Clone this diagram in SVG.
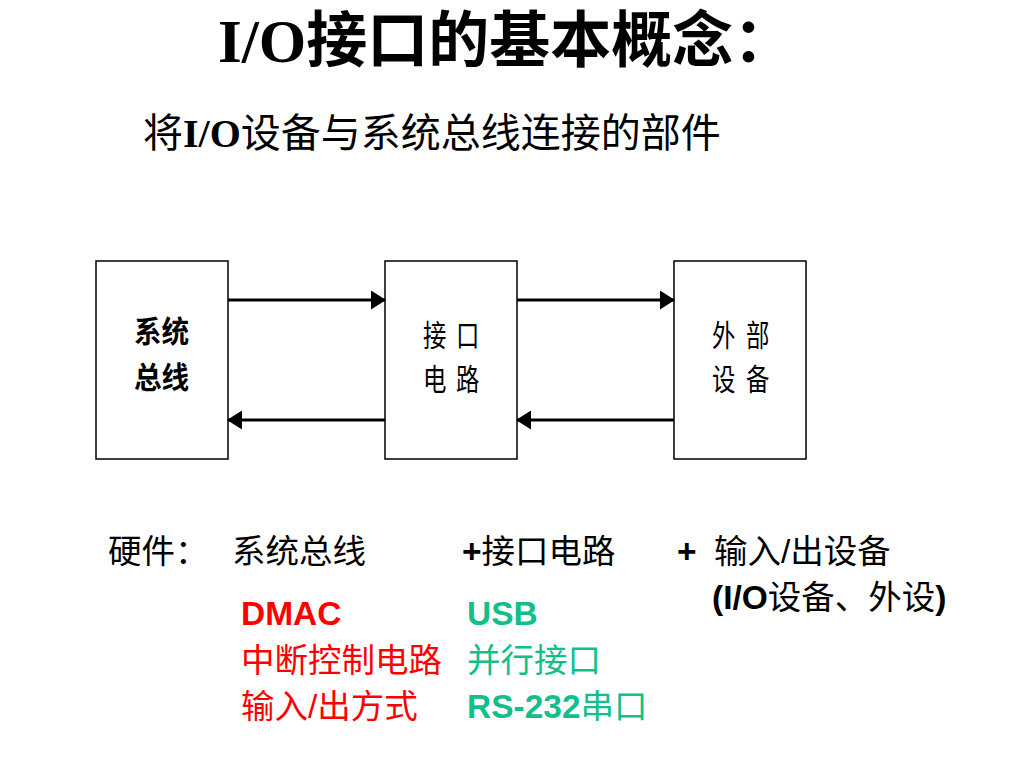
<svg xmlns="http://www.w3.org/2000/svg" width="1024" height="768" viewBox="0 0 1024 768">
<style>
.box{fill:#fff;stroke:#000;stroke-width:1.5}
.ln{stroke:#000;stroke-width:3;fill:none}
.bx{font-family:"Noto Sans CJK SC",sans-serif;font-size:30px;fill:#000}
.bt{font-family:"Liberation Sans","Noto Sans CJK SC",sans-serif;font-size:33.5px;fill:#000}
.lat{font-weight:bold}
.red{fill:#FF0000}
.grn{fill:#12BF8A}
</style>
<defs>
<marker id="ah" markerWidth="15" markerHeight="19" viewBox="0 0 15 19" refX="14" refY="9.5" orient="auto" markerUnits="userSpaceOnUse">
<path d="M0,0 L15,9.5 L0,19 Z" fill="#000"/>
</marker>
</defs>
<rect width="1024" height="768" fill="#fff"/>
<g id="title">
<text x="218" y="62" font-size="61" font-weight="bold" fill="#000"><tspan font-family="Liberation Serif,serif">I/O</tspan><tspan font-family="Noto Sans CJK SC,sans-serif">接口的基本概念：</tspan></text>
</g>
<g id="subtitle">
<text x="143" y="147" font-size="40" fill="#000"><tspan font-family="Noto Sans CJK SC,sans-serif">将</tspan><tspan font-family="Liberation Serif,serif" font-weight="bold">I/O</tspan><tspan font-family="Noto Sans CJK SC,sans-serif">设备与系统总线连接的部件</tspan></text>
</g>
<g id="node-bus">
<rect class="box" x="96" y="261" width="132" height="198"/>
<text class="bx" transform="translate(134,342) scale(0.92,1)" font-weight="bold">系统</text>
<text class="bx" transform="translate(134,388) scale(0.92,1)" font-weight="bold">总线</text>
</g>
<g id="node-interface">
<rect class="box" x="385" y="261" width="132" height="198"/>
<text class="bx" transform="translate(423,346) scale(0.78,1)">接</text>
<text class="bx" transform="translate(456,346) scale(0.78,1)">口</text>
<text class="bx" transform="translate(423,390) scale(0.78,1)">电</text>
<text class="bx" transform="translate(456,390) scale(0.78,1)">路</text>
</g>
<g id="node-device">
<rect class="box" x="674" y="261" width="132" height="198"/>
<text class="bx" transform="translate(712,346) scale(0.78,1)">外</text>
<text class="bx" transform="translate(746,346) scale(0.78,1)">部</text>
<text class="bx" transform="translate(712,390) scale(0.78,1)">设</text>
<text class="bx" transform="translate(746,390) scale(0.78,1)">备</text>
</g>
<g id="connectors">
<line class="ln" x1="228" y1="300" x2="385" y2="300" marker-end="url(#ah)"/>
<line class="ln" x1="517" y1="300" x2="674" y2="300" marker-end="url(#ah)"/>
<line class="ln" x1="385" y1="420" x2="228" y2="420" marker-end="url(#ah)"/>
<line class="ln" x1="674" y1="420" x2="517" y2="420" marker-end="url(#ah)"/>
</g>
<g id="hardware">
<text class="bt" x="108" y="563">硬件：</text>
<text class="bt" x="232" y="563">系统总线</text>
<text class="bt" x="462" y="563"><tspan class="lat">+</tspan>接口电路</text>
<text class="bt" x="677" y="563"><tspan class="lat">+</tspan></text>
<text class="bt" x="714" y="563">输入/出设备</text>
<text class="bt" x="712" y="609"><tspan class="lat">(I/O</tspan>设备、外设<tspan class="lat">)</tspan></text>
</g>
<g id="red-list">
<text class="bt red lat" x="241" y="625">DMAC</text>
<text class="bt red" x="241" y="672">中断控制电路</text>
<text class="bt red" x="241" y="718">输入/出方式</text>
</g>
<g id="green-list">
<text class="bt grn lat" x="467" y="625">USB</text>
<text class="bt grn" x="467" y="672">并行接口</text>
<text class="bt grn" x="467" y="718"><tspan class="lat">RS-232</tspan>串口</text>
</g>
</svg>
